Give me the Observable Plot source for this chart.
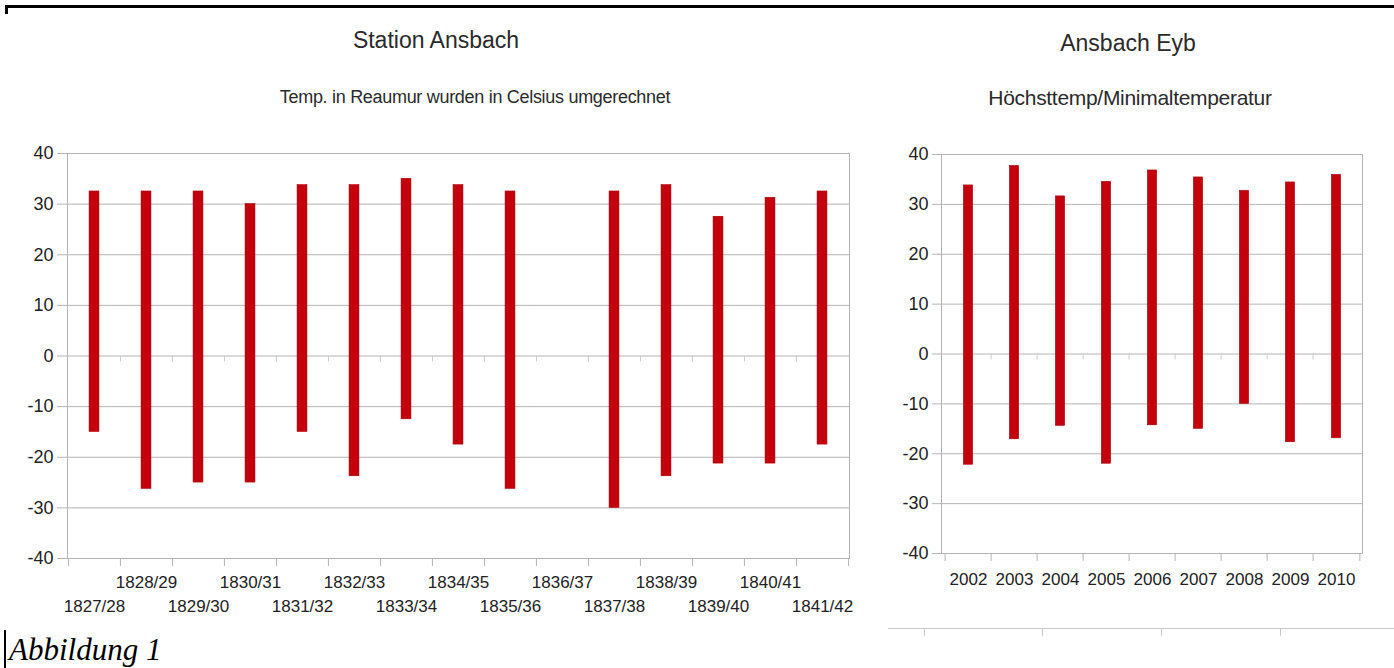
<!DOCTYPE html>
<html><head><meta charset="utf-8">
<script src="https://cdn.jsdelivr.net/npm/d3@7"></script>
<script src="https://cdn.jsdelivr.net/npm/@observablehq/plot@0.6"></script>
<style>
html,body{margin:0;padding:0;background:#fff;}
body{width:1394px;height:668px;overflow:hidden;position:relative;font-family:"Liberation Sans",Arial,sans-serif;}
.t{position:absolute;white-space:nowrap;line-height:1;color:#2a2a2a;transform:translateX(-50%);}
.abs{position:absolute;}
</style></head><body>
<div class="abs" style="left:5px;top:5px;width:1389px;height:3px;background:#000"></div>
<div class="abs" style="left:5px;top:5px;width:3px;height:9px;background:#000"></div>

<div class="t" style="left:436px;top:29px;font-size:23px;">Station Ansbach</div>
<div class="t" style="left:475px;top:88px;font-size:18px;letter-spacing:-0.3px;">Temp. in Reaumur wurden in Celsius umgerechnet</div>
<div class="t" style="left:1128px;top:32px;font-size:23px;">Ansbach Eyb</div>
<div class="t" style="left:1130px;top:87px;font-size:21px;letter-spacing:-0.3px;">Höchsttemp/Minimaltemperatur</div>

<div id="left" class="abs" style="left:0;top:140px;"></div>
<div id="right" class="abs" style="left:870px;top:140px;"></div>

<div class="abs" style="left:888px;top:628px;width:506px;height:1px;background:#c8c8c8"></div>
<div class="abs" style="left:924px;top:628px;width:1px;height:8px;background:#c8c8c8"></div>
<div class="abs" style="left:1042px;top:628px;width:1px;height:8px;background:#c8c8c8"></div>
<div class="abs" style="left:1161px;top:628px;width:1px;height:8px;background:#c8c8c8"></div>
<div class="abs" style="left:1280px;top:628px;width:1px;height:8px;background:#c8c8c8"></div>

<div class="abs" style="left:4px;top:630px;width:2px;height:38px;background:#000"></div>
<div class="abs" style="left:9px;top:634px;font-family:'Liberation Serif','Times New Roman',serif;font-style:italic;font-size:31px;line-height:1;color:#000;white-space:nowrap;">Abbildung 1</div>

<script>
// ---- Data ----
const seasons = ["1827/28","1828/29","1829/30","1830/31","1831/32","1832/33","1833/34","1834/35","1835/36","1836/37","1837/38","1838/39","1839/40","1840/41","1841/42"];
const ansbachMax = [32.5, 32.5, 32.5, 30, 33.75, 33.75, 35, 33.75, 32.5, null, 32.5, 33.75, 27.5, 31.25, 32.5];
const ansbachMin = [-15, -26.25, -25, -25, -15, -23.75, -12.5, -17.5, -26.25, null, -30, -23.75, -21.25, -21.25, -17.5];

const years = ["2002","2003","2004","2005","2006","2007","2008","2009","2010"];
const eybMax = [33.8, 37.7, 31.6, 34.5, 36.8, 35.4, 32.7, 34.4, 35.9];
const eybMin = [-22.2, -17.1, -14.4, -22.0, -14.3, -15.0, -10.0, -17.7, -16.9];

const yTicks = [-40, -30, -20, -10, 0, 10, 20, 30, 40];

const GRID = "#b4b4b4";
const TEXT = "#222";
const BAR = "#c4000c";

function chart({cats, max, min, width, height, ml, mr, mt, mb, barW, yTickSize, yTickPad, stagger, labelPad1, labelPad2}) {
  const rows = cats.map((c, i) => ({cat: c, max: max[i], min: min[i]}));
  const n = cats.length;
  const step = (width - ml - mr) / n;
  const inset = (step - barW) / 2;
  const marks = [
    Plot.gridY(yTicks, {stroke: GRID, strokeOpacity: 1}),
    Plot.frame({stroke: GRID}),
    Plot.ruleX(cats.slice(1), {x: d => d, y1: 0, y2: -1.2, dx: -step / 2, stroke: "#cdcdcd"}),
    Plot.barY(rows.filter(d => d.max != null), {x: "cat", y1: "min", y2: "max", fill: BAR, stroke: "#a3000a", strokeWidth: 0.6, insetLeft: inset, insetRight: inset}),
    Plot.axisY(yTicks, {tickSize: yTickSize, tickPadding: yTickPad, stroke: GRID, fill: TEXT, tickFormat: d => String(d), label: null, fontSize: 18}),
    Plot.axisX(cats, {tickSize: 8, tickFormat: () => "", dx: -step / 2, stroke: GRID, label: null}),
    Plot.axisX([cats[n - 1]], {tickSize: 8, tickFormat: () => "", dx: step / 2, stroke: GRID, label: null})
  ];
  if (stagger) {
    marks.push(Plot.axisX(cats.filter((d, i) => i % 2 === 1), {tickSize: 0, tickPadding: labelPad1, fill: TEXT, label: null}));
    marks.push(Plot.axisX(cats.filter((d, i) => i % 2 === 0), {tickSize: 0, tickPadding: labelPad2, fill: TEXT, label: null}));
  } else {
    marks.push(Plot.axisX(cats, {tickSize: 0, tickPadding: labelPad1, fill: TEXT, label: null}));
  }
  return Plot.plot({
    width, height,
    marginLeft: ml, marginRight: mr, marginTop: mt, marginBottom: mb,
    x: {type: "band", domain: cats, padding: 0, axis: null, label: null},
    y: {domain: [-40, 40], axis: null, label: null},
    style: {fontSize: "17px", fontFamily: "'Liberation Sans', Arial, sans-serif", background: "transparent", overflow: "visible"},
    marks
  });
}

document.getElementById("left").appendChild(chart({
  cats: seasons, max: ansbachMax, min: ansbachMin,
  width: 870, height: 480, ml: 67, mr: 21, mt: 13, mb: 62,
  barW: 10, yTickSize: 10, yTickPad: 4, stagger: true, labelPad1: 17, labelPad2: 41
}));

document.getElementById("right").appendChild(chart({
  cats: years, max: eybMax, min: eybMin,
  width: 524, height: 470, ml: 71, mr: 32, mt: 14, mb: 57,
  barW: 10, yTickSize: 9, yTickPad: 4, stagger: false, labelPad1: 19
}));
</script>
</body></html>
